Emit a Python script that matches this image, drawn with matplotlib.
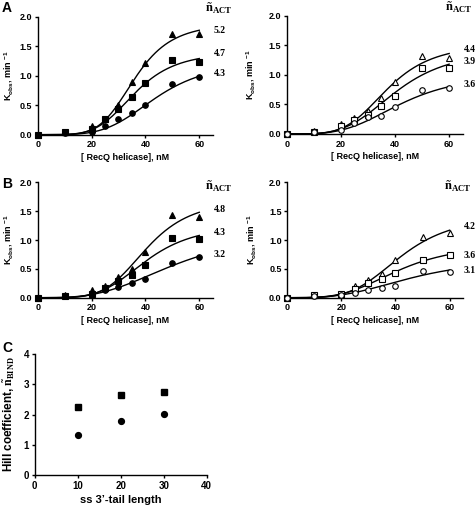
import numpy as np
import matplotlib
matplotlib.use("Agg")
import matplotlib.pyplot as plt

plt.rcParams['font.family'] = ['Liberation Sans', 'DejaVu Sans']
plt.rcParams['font.weight'] = 'bold'
plt.rcParams['mathtext.fontset'] = 'custom'
plt.rcParams['mathtext.sf'] = 'Liberation Sans:bold'
plt.rcParams['mathtext.bf'] = 'Liberation Serif:bold'
plt.rcParams['mathtext.rm'] = 'Liberation Serif:bold'

# [RecQ helicase], nM
conc = [0, 10, 20, 25, 30, 35, 40, 50, 60]

# panel A, left (filled markers)
a1_tri = [0, 0.05, 0.15, 0.27, 0.50, 0.90, 1.21, 1.71, 1.70]
a1_sq = [0, 0.05, 0.10, 0.26, 0.43, 0.64, 0.88, 1.27, 1.23]
a1_circ = [0, 0.03, 0.05, 0.14, 0.26, 0.37, 0.51, 0.86, 0.98]
a1_n = [5.2, 4.7, 4.3]
a1_kmax = [1.894, 1.409, 1.249]
a1_K = [36.0, 36.1, 43.9]

# panel A, right (open markers)
a2_tri = [0, 0.05, 0.17, 0.27, 0.38, 0.60, 0.88, 1.32, 1.28]
a2_sq = [0, 0.04, 0.14, 0.23, 0.32, 0.47, 0.65, 1.12, 1.12]
a2_circ = [0, 0.03, 0.06, 0.18, 0.28, 0.31, 0.46, 0.75, 0.78]
a2_n = [4.4, 3.9, 3.6]
a2_kmax = [1.528, 1.435, 1.031]
a2_K = [37.3, 40.5, 42.5]

# panel B, left
b1_tri = [0, 0.04, 0.13, 0.21, 0.36, 0.50, 0.80, 1.43, 1.39]
b1_sq = [0, 0.03, 0.07, 0.17, 0.29, 0.39, 0.57, 1.03, 1.01]
b1_circ = [0, 0.03, 0.05, 0.13, 0.19, 0.25, 0.32, 0.61, 0.71]
b1_n = [4.8, 4.3, 3.2]
b1_kmax = [1.702, 1.272, 1.153]
b1_K = [40.4, 40.2, 51.2]

# panel B, right
b2_tri = [0, 0.04, 0.07, 0.20, 0.31, 0.41, 0.65, 1.06, 1.13]
b2_sq = [0, 0.05, 0.07, 0.15, 0.25, 0.32, 0.43, 0.66, 0.74]
b2_circ = [0, 0.03, 0.05, 0.09, 0.14, 0.16, 0.21, 0.46, 0.45]
b2_n = [4.2, 3.6, 3.1]
b2_kmax = [1.434, 0.94, 0.695]
b2_K = [42.1, 41.0, 46.3]

# panel C
tail_len = [10, 20, 30]
hill_sq = [2.25, 2.66, 2.75]
hill_circ = [1.33, 1.79, 2.02]

W, H = 477, 505
fig = plt.figure(figsize=(W / 100, H / 100), dpi=100)


def style(ax, xlim, ylim, xticks, yticks, yfmt, fs):
    for s in ['top', 'right']:
        ax.spines[s].set_visible(False)
    for s in ['left', 'bottom']:
        ax.spines[s].set_linewidth(1.0)
    ax.set_xlim(*xlim)
    ax.set_ylim(*ylim)
    ax.set_xticks(xticks)
    ax.set_yticks(yticks)
    ax.set_yticklabels([yfmt.format(v) for v in yticks])
    ax.tick_params(direction='out', length=2.5, width=1, labelsize=fs, pad=1.5)
    for lab in ax.get_xticklabels() + ax.get_yticklabels():
        lab.set_fontweight('bold')


def kinetics_panel(rect, series, n, kmax, K, open_marks, nlab_y, hdr_xy, ylab_px):
    ax = fig.add_axes(rect)
    style(ax, (0, 65), (0, 2.0), [0, 20, 40, 60], [0, 0.5, 1.0, 1.5, 2.0], '{:.1f}', 6.5)
    xs = np.linspace(0, 60, 200)
    for ys, nn, km, kk, mk in zip(series, n, kmax, K, ['^', 's', 'o']):
        fit = km * xs ** nn / (kk ** nn + xs ** nn)
        ax.plot(xs, fit, color='black', lw=1.0, clip_on=False)
        ax.plot(conc, ys, ls='none', marker=mk, ms=4.0,
                mfc='white' if open_marks else 'black', mec='black', mew=0.8,
                clip_on=False, zorder=3)
    for nn, yy in zip(n, nlab_y):
        ax.text(65.3, yy, f'{nn:.1f}', family='Liberation Serif', weight='bold',
                fontsize=7, ha='left', va='center', clip_on=False)
    ax.text(hdr_xy[0], hdr_xy[1], r'ñ$_{\mathbf{ACT}}$', family='Liberation Serif',
            weight='bold', fontsize=9, ha='left', va='center', clip_on=False)
    ax.set_xlabel('[ RecQ helicase], nM', fontsize=6.5, fontweight='bold', labelpad=2.5)
    ax.set_ylabel(r'K$_{\mathsf{obs}}$, min $^{\mathsf{-1}}$', fontsize=6.5,
                  fontweight='bold', va='center')
    ax.yaxis.set_label_coords(-ylab_px / (rect[2] * W), 0.5)
    return ax


kinetics_panel([0.079, 0.7333, 0.367, 0.2337], [a1_tri, a1_sq, a1_circ],
               a1_n, a1_kmax, a1_K, False, [1.77, 1.37, 1.03], (62.0, 2.14), 29)
kinetics_panel([0.601, 0.7347, 0.369, 0.2343], [a2_tri, a2_sq, a2_circ],
               a2_n, a2_kmax, a2_K, True, [1.43, 1.22, 0.83], (58.4, 2.14), 36)
kinetics_panel([0.079, 0.4105, 0.367, 0.2285], [b1_tri, b1_sq, b1_circ],
               b1_n, b1_kmax, b1_K, False, [1.53, 1.13, 0.75], (62.0, 1.93), 29)
kinetics_panel([0.602, 0.4105, 0.369, 0.2285], [b2_tri, b2_sq, b2_circ],
               b2_n, b2_kmax, b2_K, True, [1.23, 0.73, 0.48], (58.0, 1.93), 36)

axc = fig.add_axes([0.0727, 0.0594, 0.3606, 0.2396])
style(axc, (0, 40), (0, 4), [0, 10, 20, 30, 40], [0, 1, 2, 3, 4], '{:d}', 7)
axc.plot(tail_len, hill_sq, ls='none', marker='s', ms=4.2, color='black')
axc.plot(tail_len, hill_circ, ls='none', marker='o', ms=4.2, color='black')
axc.set_xlabel('ss 3\u2019-tail length', fontsize=8, fontweight='bold', labelpad=3)
axc.set_ylabel(r'Hill coefficient, $\mathbf{\tilde{n}_{BIND}}$', fontsize=8.5,
               fontweight='bold', va='center')
axc.yaxis.set_label_coords(-25 / (0.3606 * W), 0.5)

for lab, yy in zip(['A', 'B', 'C'], [497, 321, 157]):
    fig.text(2 / W, yy / H, lab, fontsize=10, fontweight='bold', ha='left', va='center')

fig.savefig('out.png', dpi=100)
